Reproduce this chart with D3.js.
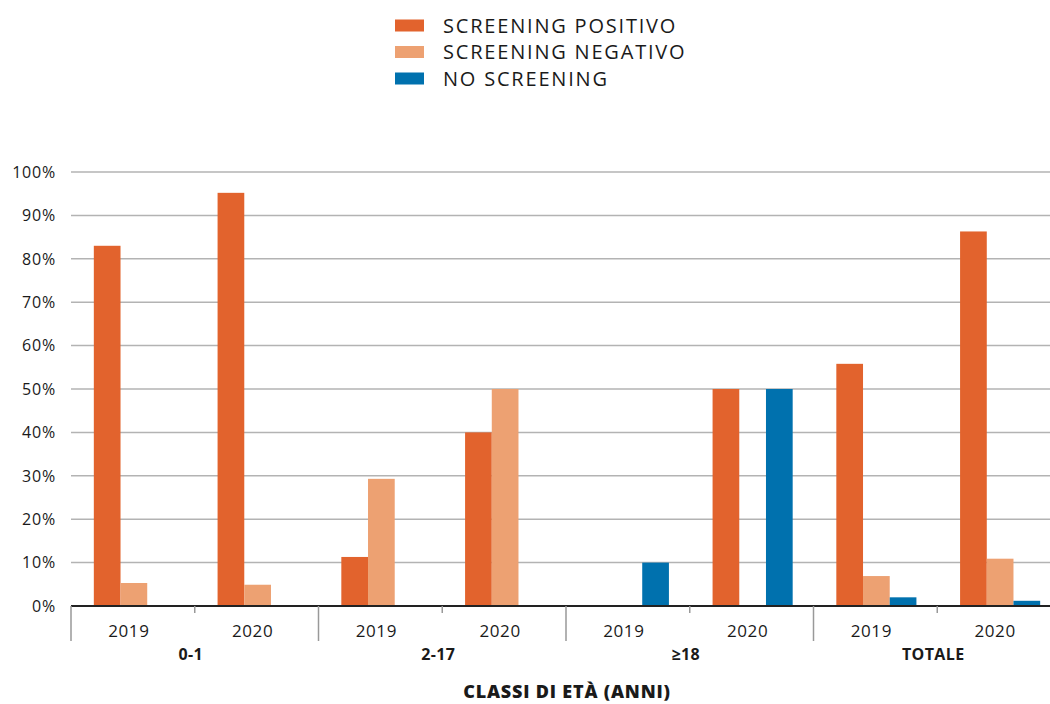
<!DOCTYPE html>
<html><head><meta charset="utf-8">
<script src="https://cdn.jsdelivr.net/npm/d3@7"></script>
<style>
body{margin:0;background:#fff;}
svg{font-family:"Open Sans",sans-serif;}
</style></head>
<body><svg id="c" width="1050" height="704"></svg>
<script>
const groups = ["0-1","2-17","≥18","TOTALE"];
const years = ["2019","2020"];
const seriesNames = ["SCREENING POSITIVO","SCREENING NEGATIVO","NO SCREENING"];
const seriesColors = ["#E2632D","#EDA172","#0071AE"];
// values per (group, year) in order: 0-1/2019, 0-1/2020, 2-17/2019, 2-17/2020, ≥18/2019, ≥18/2020, TOTALE/2019, TOTALE/2020
const positivo = [83, 95.2, 11.3, 40, 0, 50, 55.8, 86.3];
const negativo = [5.3, 4.9, 29.3, 50, 0, 0, 6.9, 10.9];
const noScreening = [0, 0, 0, 0, 10, 50, 2, 1.2];
const yTicks = [0,10,20,30,40,50,60,70,80,90,100];

const seriesVals = [positivo, negativo, noScreening];
const slots = [];
groups.forEach(g => years.forEach(y => slots.push(g + "|" + y)));

const svg = d3.select("#c");
const x0 = 71, x1 = 1061, yTop = 172, yBot = 606;

const xSlot = d3.scaleBand().domain(slots).range([x0, x1]).paddingInner(0).paddingOuter(0);
const xGroup = d3.scaleBand().domain(groups).range([x0, x1]);
const xBar = d3.scaleBand().domain([0,1,2]).range([2, xSlot.bandwidth()]).paddingInner(0).paddingOuter(0.78);
const y = d3.scaleLinear().domain([0,100]).range([yBot, yTop]);

// gridlines
svg.append("g").selectAll("line").data(yTicks.filter(d=>d>0)).join("line")
  .attr("x1", x0).attr("x2", 1050).attr("y1", d=>y(d)).attr("y2", d=>y(d))
  .attr("stroke", "#b3b3b3").attr("stroke-width", 1.5);

// y labels
svg.append("g").selectAll("text").data(yTicks).join("text")
  .attr("x", 56).attr("y", d=>y(d)).attr("dy", "0.36em")
  .attr("text-anchor","end").attr("font-size", 16).attr("font-weight", 500)
  .attr("letter-spacing","0.8px").attr("fill","#1a1a1a")
  .text(d=>d+"%");

// bars
slots.forEach((s, i) => {
  seriesVals.forEach((vals, k) => {
    const v = vals[i];
    if (v <= 0) return;
    svg.append("rect")
      .attr("x", xSlot(s) + xBar(k))
      .attr("width", xBar.bandwidth())
      .attr("y", y(v))
      .attr("height", y(0) - y(v))
      .attr("fill", seriesColors[k]);
  });
});

// axis baseline
svg.append("line").attr("x1", x0).attr("x2", 1050).attr("y1", yBot).attr("y2", yBot)
  .attr("stroke", "#222").attr("stroke-width", 2);

// group separators (long) and mid ticks (short)
groups.forEach(g => {
  svg.append("line").attr("x1", xGroup(g)).attr("x2", xGroup(g)).attr("y1", yBot).attr("y2", 641)
    .attr("stroke", "#999").attr("stroke-width", 1.5);
  const mid = xGroup(g) + xGroup.bandwidth()/2;
  svg.append("line").attr("x1", mid).attr("x2", mid).attr("y1", yBot).attr("y2", 613)
    .attr("stroke", "#999").attr("stroke-width", 1.5);
});

// year labels
svg.append("g").selectAll("text").data(slots).join("text")
  .attr("x", d => xSlot(d) + xSlot.bandwidth()/2 - 4).attr("y", 637)
  .attr("text-anchor","middle").attr("font-size", 17).attr("font-weight", 500)
  .attr("letter-spacing","0.6px").attr("fill","#1a1a1a")
  .text(d => d.split("|")[1]);

// group labels
svg.append("g").selectAll("text").data(groups).join("text")
  .attr("x", d => xGroup(d) + xGroup.bandwidth()/2 - 4).attr("y", 660)
  .attr("text-anchor","middle").attr("font-size", 16).attr("font-weight","bold")
  .attr("letter-spacing","0.4px").attr("fill","#1a1a1a")
  .text(d => d);

// axis title
svg.append("text").attr("x", 567).attr("y", 698).attr("text-anchor","middle")
  .attr("font-size", 18).attr("font-weight", 800).attr("letter-spacing","0.8px").attr("fill","#1a1a1a")
  .text("CLASSI DI ETÀ (ANNI)");

// legend
const lg = svg.append("g");
seriesNames.forEach((n, k) => {
  const cy = 25.5 + k * 26.5;
  lg.append("rect").attr("x", 395).attr("y", cy - 6).attr("width", 29).attr("height", 12).attr("fill", seriesColors[k]);
  lg.append("text").attr("x", 443).attr("y", cy).attr("dy","0.36em").attr("font-size", 20)
    .attr("font-weight", 500).attr("letter-spacing", "1.8px").attr("fill","#1a1a1a").text(n);
});
</script>
</body></html>
